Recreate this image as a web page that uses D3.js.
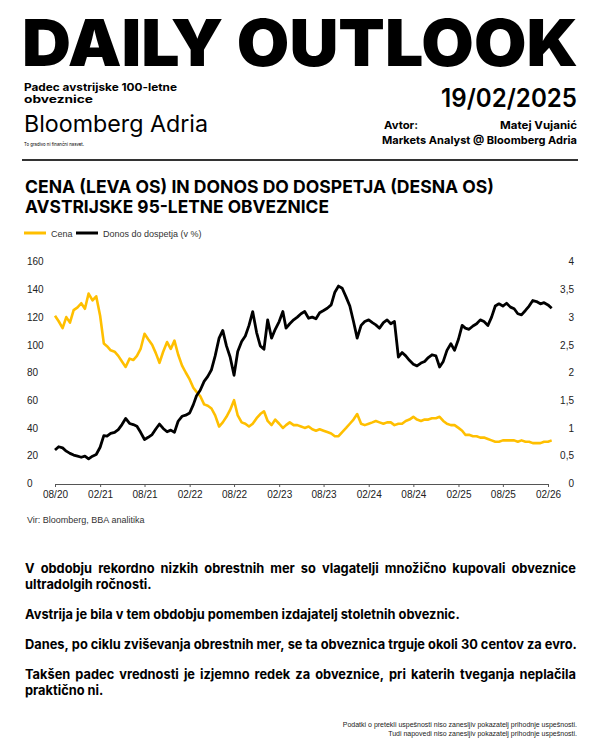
<!DOCTYPE html>
<html>
<head>
<meta charset="utf-8">
<script src="https://cdn.jsdelivr.net/npm/d3@7"></script>
<style>
  body { margin: 0; background: #fff; }
  svg { display: block; }
</style>
</head>
<body>
<script>
// half-monthly observations, Aug 2020 - Feb 2026
var dates = [
  "2020-08-01","2020-08-16","2020-09-01","2020-09-16","2020-10-01","2020-10-16","2020-11-01","2020-11-16","2020-12-01","2020-12-16",
  "2021-01-01","2021-01-16","2021-02-01","2021-02-16","2021-03-01","2021-03-16","2021-04-01","2021-04-16","2021-05-01","2021-05-16",
  "2021-06-01","2021-06-16","2021-07-01","2021-07-16","2021-08-01","2021-08-16","2021-09-01","2021-09-16","2021-10-01","2021-10-16",
  "2021-11-01","2021-11-16","2021-12-01","2021-12-16","2022-01-01","2022-01-16","2022-02-01","2022-02-16","2022-03-01","2022-03-16",
  "2022-04-01","2022-04-16","2022-05-01","2022-05-16","2022-06-01","2022-06-16","2022-07-01","2022-07-16","2022-08-01","2022-08-16",
  "2022-09-01","2022-09-16","2022-10-01","2022-10-16","2022-11-01","2022-11-16","2022-12-01","2022-12-16","2023-01-01","2023-01-16",
  "2023-02-01","2023-02-16","2023-03-01","2023-03-16","2023-04-01","2023-04-16","2023-05-01","2023-05-16","2023-06-01","2023-06-16",
  "2023-07-01","2023-07-16","2023-08-01","2023-08-16","2023-09-01","2023-09-16","2023-10-01","2023-10-16","2023-11-01","2023-11-16",
  "2023-12-01","2023-12-16","2024-01-01","2024-01-16","2024-02-01","2024-02-16","2024-03-01","2024-03-16","2024-04-01","2024-04-16",
  "2024-05-01","2024-05-16","2024-06-01","2024-06-16","2024-07-01","2024-07-16","2024-08-01","2024-08-16","2024-09-01","2024-09-16",
  "2024-10-01","2024-10-16","2024-11-01","2024-11-16","2024-12-01","2024-12-16","2025-01-01","2025-01-16","2025-02-01","2025-02-16",
  "2025-03-01","2025-03-16","2025-04-01","2025-04-16","2025-05-01","2025-05-16","2025-06-01","2025-06-16","2025-07-01","2025-07-16",
  "2025-08-01","2025-08-16","2025-09-01","2025-09-16","2025-10-01","2025-10-16","2025-11-01","2025-11-16","2025-12-01","2025-12-16",
  "2026-01-01","2026-01-16","2026-02-01","2026-02-16"
];

// cena (left axis)
var cena = [
  121,117,112,120,116,125,127,130,126,137,
  132,135,121,101,99,96,95,92,88,84,
  90,89,92,97,108,104,100,94,87,95,
  102,97,103,93,85,80,75,69,66,63,
  57,56,54,49,41,44,48,53,60,49,
  44,43,41,43,47,50,52,45,42,46,
  43,40,42,44,42,42,41,40,41,39,
  38,39,38,37,36,34,34,37,40,43,
  46,50,43,42,43,44,45,44,43,44,
  44,42,43,43,45,46,48,46,45,46,
  46,47,47,48,45,43,42,42,40,38,
  35,35,34,34,33,33,32,31,30,30,
  31,31,31,31,30,31,30,30,29,29,
  29,30,30,31
];

// donos do dospetja v % (right axis)
var donos = [
  0.60,0.66,0.64,0.58,0.54,0.51,0.49,0.47,0.49,0.44,
  0.49,0.52,0.65,0.86,0.85,0.90,0.92,0.97,1.06,1.17,
  1.08,1.06,1.03,0.92,0.79,0.83,0.88,0.98,1.07,0.99,
  0.93,0.96,0.92,1.12,1.21,1.23,1.27,1.42,1.58,1.68,
  1.84,1.93,2.05,2.30,2.62,2.76,2.48,2.28,1.95,2.38,
  2.56,2.66,2.85,3.10,2.72,2.48,2.42,2.95,2.62,2.78,
  2.92,3.10,2.80,2.88,2.95,3.00,3.06,3.10,2.98,3.00,
  2.97,3.08,3.12,3.16,3.22,3.45,3.56,3.52,3.36,3.20,
  2.92,2.62,2.85,2.92,2.95,2.90,2.86,2.80,2.90,2.95,
  2.88,2.92,2.28,2.36,2.30,2.22,2.15,2.12,2.17,2.20,
  2.27,2.32,2.30,2.10,2.20,2.40,2.52,2.40,2.60,2.85,
  2.80,2.78,2.84,2.88,2.95,2.92,2.85,3.00,3.20,3.24,
  3.20,3.25,3.18,3.15,3.06,3.04,3.12,3.20,3.30,3.28,
  3.24,3.26,3.22,3.16
];

var leftTicks = [0, 20, 40, 60, 80, 100, 120, 140, 160];
var rightTicks = [0, 0.5, 1, 1.5, 2, 2.5, 3, 3.5, 4];
var xTicks = ["2020-08-01","2021-02-01","2021-08-01","2022-02-01","2022-08-01","2023-02-01",
              "2023-08-01","2024-02-01","2024-08-01","2025-02-01","2025-08-01","2026-02-01"];

var paragraphs = [
  "V obdobju rekordno nizkih obrestnih mer so vlagatelji množično kupovali obveznice ultradolgih ročnosti.",
  "Avstrija je bila v tem obdobju pomemben izdajatelj stoletnih obveznic.",
  "Danes, po ciklu zviševanja obrestnih mer, se ta obveznica trguje okoli 30 centov za evro.",
  "Takšen padec vrednosti je izjemno redek za obveznice, pri katerih tveganja neplačila praktično ni."
];

var YELLOW = "#ffbf00";
var parse = d3.timeParse("%Y-%m-%d");

var svg = d3.select("body").append("svg")
    .attr("width", 600)
    .attr("height", 750);

function fit(sel, w) {
  return sel.attr("textLength", w).attr("lengthAdjust", "spacingAndGlyphs");
}

// ---- header ----
fit(svg.append("text")
    .attr("x", 22).attr("y", 66)
    .style("font", "900 64px Inter, Roboto, sans-serif")
    .text("DAILY OUTLOOK"), 556);

var bold = "700 10.5px Inter, Roboto, sans-serif";
fit(svg.append("text").attr("x", 24).attr("y", 91).style("font", bold)
    .text("Padec avstrijske 100-letne"), 153);
fit(svg.append("text").attr("x", 24).attr("y", 103).style("font", bold)
    .text("obveznice"), 69);

fit(svg.append("text").attr("x", 577).attr("y", 107).attr("text-anchor", "end")
    .style("font", "600 25px Inter, Roboto, sans-serif")
    .text("19/02/2025"), 136);

fit(svg.append("text").attr("x", 24).attr("y", 132)
    .style("font", "400 23px Inter, Roboto, sans-serif")
    .text("Bloomberg Adria"), 184);

fit(svg.append("text").attr("x", 24).attr("y", 146)
    .style("font", "400 5px Inter, Roboto, sans-serif")
    .text("To gradivo ni finančni nasvet."), 60);

var bold11 = "700 11px Inter, Roboto, sans-serif";
fit(svg.append("text").attr("x", 384).attr("y", 129).style("font", bold11)
    .text("Avtor:"), 34);
fit(svg.append("text").attr("x", 577).attr("y", 129).attr("text-anchor", "end").style("font", bold11)
    .text("Matej Vujanić"), 77);
fit(svg.append("text").attr("x", 577).attr("y", 144).attr("text-anchor", "end").style("font", bold11)
    .text("Markets Analyst @ Bloomberg Adria"), 195);

svg.append("line")
    .attr("x1", 22).attr("x2", 578).attr("y1", 160).attr("y2", 160)
    .attr("stroke", "#333").attr("stroke-width", 2);

// ---- chart title + legend ----
var titleFont = "700 18px Inter, Roboto, sans-serif";
fit(svg.append("text").attr("x", 25).attr("y", 193).style("font", titleFont)
    .text("CENA (LEVA OS) IN DONOS DO DOSPETJA (DESNA OS)"), 469);
fit(svg.append("text").attr("x", 25).attr("y", 213).style("font", titleFont)
    .text("AVSTRIJSKE 95-LETNE OBVEZNICE"), 304);

var legend = [{name: "Cena", color: YELLOW, x: 24, w: 22},
              {name: "Donos do dospetja (v %)", color: "#000", x: 76, w: 22}];
var lg = svg.append("g").selectAll("g").data(legend).enter().append("g");
lg.append("line")
    .attr("x1", d => d.x).attr("x2", d => d.x + d.w)
    .attr("y1", 233).attr("y2", 233)
    .attr("stroke", d => d.color).attr("stroke-width", 3);
lg.append("text")
    .attr("x", d => d.x + d.w + 5).attr("y", 236.5)
    .style("font", "400 9px 'Liberation Sans', Arial, sans-serif")
    .attr("fill", "#333")
    .text(d => d.name);

// ---- scales ----
var x = d3.scaleTime()
    .domain([parse("2020-08-01"), parse("2026-02-01")])
    .range([55, 548]);
var yL = d3.scaleLinear().domain([0, 160]).range([483.3, 261.7]);
var yR = d3.scaleLinear().domain([0, 4]).range([483.3, 261.7]);

var axisFont = "400 10px 'Liberation Sans', Arial, sans-serif";

// left axis (labels left-aligned at the page margin)
var gl = svg.append("g").attr("transform", "translate(27,0)")
    .call(d3.axisRight(yL).tickValues(leftTicks).tickSize(0).tickPadding(0));
gl.select(".domain").remove();
gl.selectAll("text").style("font", axisFont).attr("fill", "#222");

// right axis
var gr = svg.append("g").attr("transform", "translate(574,0)")
    .call(d3.axisLeft(yR).tickValues(rightTicks).tickSize(0).tickPadding(0)
      .tickFormat(d => String(d).replace(".", ",")));
gr.select(".domain").remove();
gr.selectAll("text").style("font", axisFont).attr("fill", "#222");

// x axis
var gx = svg.append("g").attr("transform", "translate(0,484)")
    .call(d3.axisBottom(x).tickValues(xTicks.map(parse))
      .tickFormat(d3.timeFormat("%m/%y")).tickSize(3).tickSizeOuter(0).tickPadding(4));
gx.select(".domain").attr("stroke", "#555");
gx.selectAll(".tick line").attr("stroke", "#555");
gx.selectAll("text").style("font", axisFont).attr("fill", "#222");

// ---- lines ----
var rows = dates.map((d, i) => ({date: parse(d), cena: cena[i], donos: donos[i]}));

svg.append("path")
    .datum(rows)
    .attr("fill", "none")
    .attr("stroke", YELLOW)
    .attr("stroke-width", 2.6)
    .attr("stroke-linejoin", "round")
    .attr("d", d3.line().x(d => x(d.date)).y(d => yL(d.cena)));

svg.append("path")
    .datum(rows)
    .attr("fill", "none")
    .attr("stroke", "#000")
    .attr("stroke-width", 2.8)
    .attr("stroke-linejoin", "round")
    .attr("d", d3.line().x(d => x(d.date)).y(d => yR(d.donos)));

svg.append("text").attr("x", 27).attr("y", 523)
    .style("font", "400 9px 'Liberation Sans', Arial, sans-serif")
    .attr("fill", "#333")
    .text("Vir: Bloomberg, BBA analitika");

// ---- body text, justified like the original ----
var bodyFont = "700 13px Inter, Roboto, sans-serif";
var left = 25, right = 576, lineH = 16, paraStep = 30;

function measure(str) {
  var t = svg.append("text").style("font", bodyFont).text(str);
  var w = t.node().getComputedTextLength();
  t.remove();
  return w;
}
var spaceW = measure("a a") - measure("aa");
// squeeze factor from the one line that fills the width on its own
var k = (right - left) / measure(paragraphs[2]);

var bodyG = svg.append("g");
var y0 = 573;
paragraphs.forEach(function(p) {
  var lines = [], cur = [];
  p.split(" ").forEach(function(w) {
    var test = cur.concat([w]).join(" ");
    if (cur.length && measure(test) * k > (right - left) + 1) {
      lines.push(cur);
      cur = [w];
    } else {
      cur.push(w);
    }
  });
  lines.push(cur);

  lines.forEach(function(ws, li) {
    var last = li === lines.length - 1;
    var widths = ws.map(w => measure(w) * k);
    var gap = spaceW * k;
    if (!last && ws.length > 1) {
      gap = (right - left - d3.sum(widths)) / (ws.length - 1);
    }
    var cx = left;
    ws.forEach(function(w, wi) {
      fit(bodyG.append("text").attr("x", cx).attr("y", y0).style("font", bodyFont).text(w), widths[wi]);
      cx += widths[wi] + gap;
    });
    y0 += last ? paraStep : lineH;
  });
});

// ---- footer ----
var footFont = "400 7px 'Liberation Sans', Arial, sans-serif";
svg.append("text").attr("x", 577).attr("y", 727).attr("text-anchor", "end")
    .style("font", footFont).attr("fill", "#222")
    .text("Podatki o pretekli uspešnosti niso zanesljiv pokazatelj prihodnje uspešnosti.");
svg.append("text").attr("x", 577).attr("y", 736).attr("text-anchor", "end")
    .style("font", footFont).attr("fill", "#222")
    .text("Tudi napovedi niso zanesljiv pokazatelj prihodnje uspešnosti.");
</script>
</body>
</html>
